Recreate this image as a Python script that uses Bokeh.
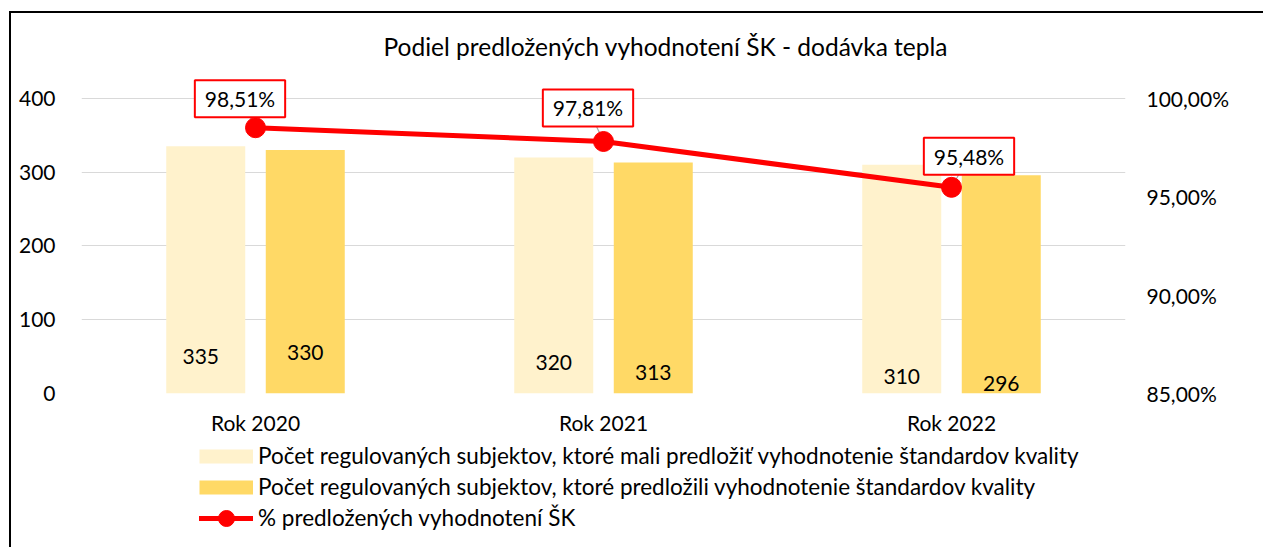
from bokeh.plotting import figure
from bokeh.layouts import column
from bokeh.models import (ColumnDataSource, FactorRange, Range1d, LinearAxis, FixedTicker,
                          CustomJSTickFormatter, Legend, LegendItem)
from bokeh.transform import dodge
from bokeh.core.properties import value
from bokeh.embed import file_html
from bokeh.resources import INLINE

# ---------------- data ----------------
years = ["Rok 2020", "Rok 2021", "Rok 2022"]
required = [335, 320, 310]          # mali predložiť
submitted = [330, 313, 296]         # predložili
share = [0.9851, 0.9781, 0.9548]    # % predložených
count_ticks = [0, 100, 200, 300, 400]
share_ticks = [0.85, 0.90, 0.95, 1.00]
title_text = "Podiel predložených vyhodnotení ŠK - dodávka tepla"
legend_required = "Počet regulovaných subjektov, ktoré mali predložiť vyhodnotenie štandardov kvality"
legend_submitted = "Počet regulovaných subjektov, ktoré predložili vyhodnotenie štandardov kvality"
legend_share = "% predložených vyhodnotení ŠK"

# ---------------- layout / style ----------------
FONT = "Lato"
W, H = 1252, 424
ML, MT, FW, FH = 70, 57, 1044, 324
MR = W - ML - FW
MB = H - MT - FH
LEG_H = 110
SPAN_PX = 296                      # pixels covered by the 0..400 scale
COUNT_MIN, COUNT_TOP = 0, 400
SHARE_MIN, SHARE_TOP = 0.85, 1.00
C_LIGHT = "#FFF2CC"
C_DARK = "#FFD966"
C_RED = "#FF0000"
BAR_W = 0.227
BAR_SHIFT = 0.143

# label offsets (pixels)
req_label_dx = [-5, 0, 0]
req_label_dy = [-37.5, -31, -17.5]
sub_label_dx = [0, 0, 0]
sub_label_dy = [-41.5, -21, -10]
share_box_dx = [-15.5, -15.5, 17.5]
share_box_dy = [-29, -33.5, -31]

count_max = COUNT_MIN + (COUNT_TOP - COUNT_MIN) * FH / SPAN_PX
share_max = SHARE_MIN + (SHARE_TOP - SHARE_MIN) * FH / SPAN_PX

p = figure(x_range=FactorRange(*years), y_range=Range1d(COUNT_MIN, count_max),
           width=W, height=H, output_backend="svg", toolbar_location=None,
           min_border_left=ML, min_border_right=MR, min_border_top=MT, min_border_bottom=MB)
p.outline_line_color = None
p.background_fill_color = "white"
p.border_fill_color = "white"

# title
p.title.text = title_text
p.title.align = "left"
p.title.offset = 302
p.title.text_font = FONT
p.title.text_font_size = "24.5px"
p.title.text_font_style = "normal"
p.title.text_color = "#000000"
p.title.vertical_align = "middle"
p.title.standoff = 17

# axes
p.xaxis.axis_line_color = None
p.xaxis.major_tick_line_color = None
p.xaxis.minor_tick_line_color = None
p.xaxis.major_label_standoff = 10
p.xaxis.major_label_text_font = FONT
p.xaxis.major_label_text_font_size = "21px"
p.xaxis.major_label_text_color = "#000000"

p.yaxis.ticker = FixedTicker(ticks=count_ticks)
p.yaxis.axis_line_color = None
p.yaxis.major_tick_line_color = None
p.yaxis.minor_tick_line_color = None
p.yaxis.major_label_standoff = 20
p.yaxis.major_label_text_font = FONT
p.yaxis.major_label_text_font_size = "21px"
p.yaxis.major_label_text_color = "#000000"

p.xgrid.grid_line_color = None
p.ygrid.grid_line_color = "#D9D9D9"
p.ygrid.grid_line_width = 1.2

p.extra_y_ranges = {"pct": Range1d(SHARE_MIN, share_max)}
ax2 = LinearAxis(y_range_name="pct", ticker=FixedTicker(ticks=share_ticks),
                 formatter=CustomJSTickFormatter(code="return (tick*100).toFixed(2).replace('.', ',') + '%';"))
ax2.axis_line_color = None
ax2.major_tick_line_color = None
ax2.minor_tick_line_color = None
ax2.major_label_standoff = 15
ax2.major_label_text_font = FONT
ax2.major_label_text_font_size = "21px"
ax2.major_label_text_color = "#000000"
p.add_layout(ax2, "right")

# sources
bars = ColumnDataSource(dict(
    year=years, required=required, submitted=submitted,
    req_txt=[str(v) for v in required], sub_txt=[str(v) for v in submitted],
    base=[0] * len(years),
    req_dx=req_label_dx, req_dy=req_label_dy, sub_dx=sub_label_dx, sub_dy=sub_label_dy,
))

px_per_cat = FW / len(years)
px_per_share = SPAN_PX / (SHARE_TOP - SHARE_MIN)
line_src = ColumnDataSource(dict(
    year=years, share=share,
    txt=[f"{v*100:.2f}".replace(".", ",") + "%" for v in share],
    dx=share_box_dx, dy=share_box_dy,
    lead_y=[v - d / px_per_share for v, d in zip(share, share_box_dy)],
))
lead_shift = [d / px_per_cat for d in share_box_dx]

p.vbar(x=dodge("year", -BAR_SHIFT, range=p.x_range), top="required", width=BAR_W,
       source=bars, fill_color=C_LIGHT, line_color=None)
p.vbar(x=dodge("year", BAR_SHIFT, range=p.x_range), top="submitted", width=BAR_W,
       source=bars, fill_color=C_DARK, line_color=None)

p.text(x=dodge("year", -BAR_SHIFT, range=p.x_range), y="base", text="req_txt", source=bars,
       x_offset="req_dx", y_offset="req_dy", text_align="center", text_baseline="middle",
       text_font=value(FONT), text_font_size="21px", text_color="#000000")
p.text(x=dodge("year", BAR_SHIFT, range=p.x_range), y="base", text="sub_txt", source=bars,
       x_offset="sub_dx", y_offset="sub_dy", text_align="center", text_baseline="middle",
       text_font=value(FONT), text_font_size="21px", text_color="#000000")

# leader lines (one per label, each with its own horizontal shift)
for i, shift in enumerate(lead_shift):
    sub = ColumnDataSource(dict(year=[years[i]], share=[share[i]], lead_y=[line_src.data["lead_y"][i]]))
    p.segment(x0="year", y0="share", x1=dodge("year", shift, range=p.x_range), y1="lead_y",
              source=sub, y_range_name="pct", line_color="#A6A6A6", line_width=1.2)

# line series
p.line(x="year", y="share", source=line_src, y_range_name="pct",
       line_color=C_RED, line_width=5, line_cap="round", line_join="round")
p.scatter(x="year", y="share", source=line_src, y_range_name="pct",
          size=20, fill_color=C_RED, line_color=C_RED)

p.text(x="year", y="share", text="txt", source=line_src, y_range_name="pct",
       x_offset="dx", y_offset="dy", text_align="center", text_baseline="middle",
       text_font=value(FONT), text_font_size="21px", text_color="#000000",
       background_fill_color="white", border_line_color=C_RED, border_line_width=2,
       padding=dict(left=10, right=10, top=6, bottom=6))

# ---------------- legend strip ----------------
pl = figure(x_range=Range1d(0, 1), y_range=Range1d(0, 1), width=W, height=LEG_H,
            output_backend="svg", toolbar_location=None,
            min_border_left=0, min_border_right=0, min_border_top=0, min_border_bottom=0)
pl.axis.visible = False
pl.grid.visible = False
pl.outline_line_color = None
pl.background_fill_color = "white"
pl.border_fill_color = "white"

# placeholder renderers kept outside the visible range; they only feed the legend swatches
hidden = ColumnDataSource(dict(x=[-2, -1], y=[-1, -1]))
d_req = pl.line(x="x", y="y", source=hidden, line_color=C_LIGHT, line_width=14)
d_sub = pl.line(x="x", y="y", source=hidden, line_color=C_DARK, line_width=14)
d_line = pl.line(x="x", y="y", source=hidden, line_color=C_RED, line_width=5, line_cap="round")
d_dot = pl.ellipse(x="x", y="y", source=hidden, width=16, height=16,
                   width_units="screen", height_units="screen",
                   fill_color=C_RED, line_color=C_RED)

legend = Legend(items=[
    LegendItem(label=legend_required, renderers=[d_req]),
    LegendItem(label=legend_submitted, renderers=[d_sub]),
    LegendItem(label=legend_share, renderers=[d_line, d_dot]),
], location=(118, 14), orientation="vertical", glyph_width=54, glyph_height=20,
    label_height=31, spacing=0, padding=0, margin=0, label_standoff=5, border_line_color=None,
    background_fill_alpha=0, label_text_font=FONT, label_text_font_size="22.5px",
    label_text_color="#000000", label_text_baseline="middle")
pl.add_layout(legend, "center")

layout = column(p, pl, spacing=0, margin=(11, 0, 0, 9),
                styles={"border-left": "2px solid #000000", "border-top": "2px solid #000000"})

open("out.html", "w").write(file_html(layout, INLINE))
